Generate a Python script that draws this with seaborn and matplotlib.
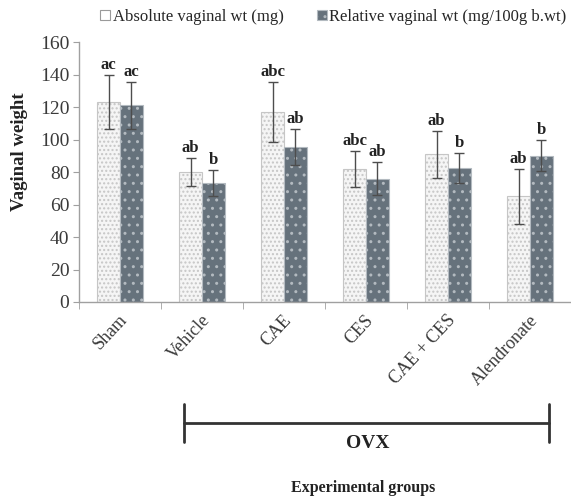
import numpy as np
import pandas as pd
import matplotlib
matplotlib.use("Agg")
import matplotlib.pyplot as plt
import matplotlib.transforms as mtransforms
import seaborn as sns
from matplotlib.lines import Line2D
from matplotlib.patches import Patch

# Data
groups = ["Sham", "Vehicle", "CAE", "CES", "CAE + CES", "Alendronate"]
series = ["Absolute vaginal wt (mg)", "Relative vaginal wt (mg/100g b.wt)"]
abs_wt = [123, 80, 117, 82, 91, 65]
abs_err = [16.5, 8.5, 18.5, 11, 14.5, 17]
rel_wt = [121, 73, 95.5, 76, 82.5, 90]
rel_err = [14.5, 8, 11, 10, 9.5, 9.5]
abs_letters = ["ac", "ab", "abc", "abc", "ab", "ab"]
rel_letters = ["ac", "b", "ab", "ab", "b", "b"]
y_ticks = [0, 20, 40, 60, 80, 100, 120, 140, 160]

df = pd.DataFrame({
    "group": groups * 2,
    "series": [series[0]] * len(groups) + [series[1]] * len(groups),
    "weight": abs_wt + rel_wt,
})

sns.set_style("white")
plt.rcParams["font.family"] = ["Liberation Serif", "DejaVu Serif"]
plt.rcParams["hatch.linewidth"] = 1.0

W, H = 571, 498
fig = plt.figure(figsize=(W / 100, H / 100), dpi=100)
ax = fig.add_axes([79 / W, 1 - 302 / H, 1 - 79 / W, 260 / H])

face = ["#f5f5f5", "#66727c"]
hatch_col = ["#c6c6c6", "#b3bac0"]

sns.barplot(data=df, x="group", y="weight", hue="series", order=groups,
            hue_order=series, palette=face, width=0.56, errorbar=None,
            saturation=1, legend=False, ax=ax)

# texture, error bars and letters
bar_conts = list(ax.containers)
for i, cont in enumerate(bar_conts):
    vals = [abs_wt, rel_wt][i]
    errs = [abs_err, rel_err][i]
    letters = [abs_letters, rel_letters][i]
    for p in cont:
        p.set_hatch("...." if i == 0 else "..")
        p.set_edgecolor(hatch_col[i])
        p.set_linewidth(0.8)
    xs = [p.get_x() + p.get_width() / 2 for p in cont]
    ax.errorbar(xs, vals, yerr=errs, fmt="none", ecolor="#4d4d4d",
                elinewidth=1, capsize=3.5, capthick=1)
    for x, v, e, t in zip(xs, vals, errs, letters):
        ax.text(x, v + e + 1.2, t, ha="center", va="bottom", fontsize=12,
                fontweight="bold", color="#222222")

ax.set_ylim(0, 160)
ax.set_yticks(y_ticks)
ax.set_xlim(-0.5, 5.46)
for s in ["top", "right"]:
    ax.spines[s].set_visible(False)
for s in ["left", "bottom"]:
    ax.spines[s].set_color("#a0a0a0")
    ax.spines[s].set_linewidth(1)

ax.tick_params(axis="y", labelsize=14, colors="#3a3a3a", length=4,
               color="#a0a0a0", left=True, pad=3)
ax.set_xticks(np.arange(-0.5, 6, 1), minor=True)
ax.tick_params(axis="x", which="minor", length=5, color="#a0a0a0", bottom=True)
ax.tick_params(axis="x", which="major", length=0, labelsize=13,
               colors="#3a3a3a", pad=11)
ax.set_xticks(range(len(groups)))
ax.set_xticklabels(groups, rotation=47, ha="right", va="center",
                   rotation_mode="anchor")
shift = mtransforms.ScaledTranslation(5 / 100, 0, fig.dpi_scale_trans)
for lab in ax.get_xticklabels():
    lab.set_transform(lab.get_transform() + shift)
ax.set_xlabel("")

ax.set_ylabel("Vaginal weight", fontsize=13.5, fontweight="bold", color="#222222")
ax.yaxis.set_label_coords(-0.104, 0.58)

# legend on top
handles = [Patch(facecolor="#ffffff", edgecolor="#9a9a9a", linewidth=0.8),
           Patch(facecolor="#66727c", edgecolor="#b3bac0", linewidth=0.8, hatch="..")]
fig.legend(handles, series, loc="center", bbox_to_anchor=(0.584, 1 - 17 / H),
           ncol=2, frameon=False, fontsize=12, handlelength=0.6,
           handleheight=0.6, handletextpad=0.15, columnspacing=2.0)

# OVX bracket
ink = "#333333"
y_br = 1 - 423 / H
fig.add_artist(Line2D([184 / W, 549 / W], [y_br, y_br], color=ink, lw=2))
for xb in [184 / W, 549 / W]:
    fig.add_artist(Line2D([xb, xb], [1 - 404 / H, 1 - 442 / H], color=ink, lw=2))
fig.text(368 / W, 1 - 443 / H, "OVX", ha="center", va="center", fontsize=14,
         fontweight="bold", color="#222222")
fig.text(363 / W, 1 - 488 / H, "Experimental groups", ha="center", va="center",
         fontsize=11.5, fontweight="bold", color="#222222")

fig.savefig("out.png", dpi=100)
